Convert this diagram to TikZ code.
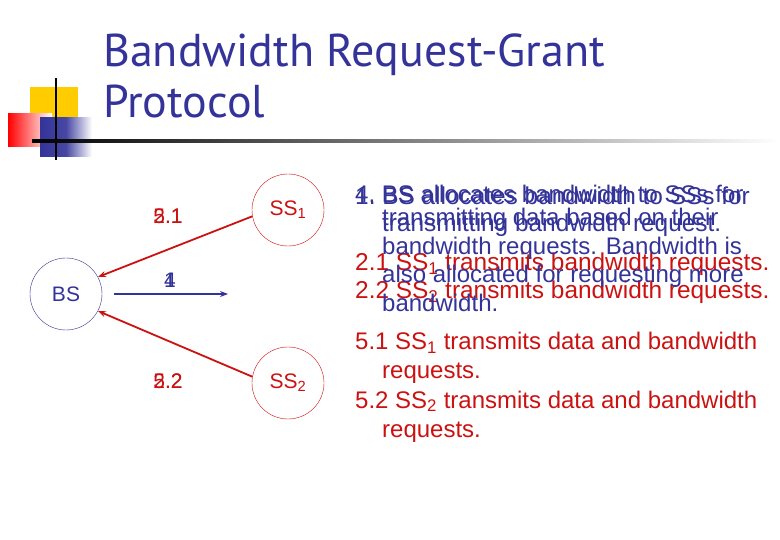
\documentclass[tikz,border=0pt]{standalone}
\usepackage{fontspec}
\setmainfont{Liberation Sans}
\newfontfamily\titlefont{PT Sans}
\usetikzlibrary{arrows.meta}
\definecolor{sblue}{RGB}{51,51,153}
\definecolor{sred}{RGB}{204,17,17}
\definecolor{syellow}{RGB}{255,204,0}
\tikzset{
  circ/.style={circle,draw,minimum size=72pt,inner sep=0pt,font=\fontsize{21}{21}\selectfont},
  lbl/.style={inner sep=0pt,font=\fontsize{21}{21}\selectfont},
  arr/.style={line width=1.8pt,-{Stealth[length=8pt,width=6pt]}},
  ta/.style={anchor=base west,inner sep=0pt,font=\fontsize{24.4}{24.4}\selectfont},
  tb/.style={anchor=base west,inner sep=0pt,font=\fontsize{24}{24}\selectfont},
}
\begin{document}
\begin{tikzpicture}[x=1pt,y=-1pt]
\useasboundingbox (0,0) rectangle (780,540);
% decoration
\fill[syellow] (30,87) rectangle (78,125);
\shade[left color=red, right color=white] (8,114) rectangle (52,147);
\shade[left color=sblue, right color=white,middle color=sblue!90] (40,118) rectangle (92,157);
\draw[line width=1.2pt] (56,78) -- (56,160);
\shade[left color=black,right color=white] (32,139.8) rectangle (780,142.2);
% title
\node[anchor=base west,inner sep=0pt,text=sblue,font=\titlefont\fontsize{46}{46}\selectfont] (t1) at (103,67) {Bandwidth Request-Grant};
\node[anchor=base west,inner sep=0pt,text=sblue,font=\titlefont\fontsize{46}{46}\selectfont] (t2) at (103,118) {Protocol};
% nodes
\node[circ,draw=sblue,text=sblue] (bs) at (66,294) {BS};
\node[circ,draw=sred,text=sred] (ss1) at (288,210) {SS\textsubscript{1}};
\node[circ,draw=sred,text=sred] (ss2) at (288,383) {SS\textsubscript{2}};
\coordinate (c4) at (228,294);
\draw[arr,sred] (ss1.190) -- (bs.28);
\draw[arr,sred] (ss2.170) -- (bs.-28);
\draw[arr,sblue,line width=1.2pt] (bs.east) ++(12,0) coordinate (b4) (b4) -- (c4);
\node[lbl,text=sred] (l21a) at (168,216) {2.1};
\node[lbl,text=sred] (l21b) at (168,216) {5.1};
\node[lbl,text=sblue] (l4a) at (170,280) {4};
\node[lbl,text=sblue] (l4b) at (170,280) {1};
\node[lbl,text=sred] (l22a) at (168,381) {2.2};
\node[lbl,text=sred] (l22b) at (168,381) {5.2};
% text block A
\node[ta,text=sblue] (a1) at (355,205) {1.\ BS allocates bandwidth to SSs for};
\node[ta,text=sblue] (a2) at (382,232) {transmitting bandwidth request.};
\node[ta,text=sred] (a3) at (355,271) {2.1 SS\textsubscript{1} transmits bandwidth requests.};
\node[ta,text=sred] (a4) at (355,299) {2.2 SS\textsubscript{2} transmits bandwidth requests.};
% text block B
\node[tb,text=sblue] (b1) at (355,203) {4.\ BS allocates bandwidth to SSs for};
\node[tb,text=sblue] (b2) at (382,226) {transmitting data based on their};
\node[tb,text=sblue] (b3) at (382,255) {bandwidth requests. Bandwidth is};
\node[tb,text=sblue] (b4t) at (382,283) {also allocated for requesting more};
\node[tb,text=sblue] (b5) at (382,312) {bandwidth.};
\node[tb,text=sred] (b6) at (355,350) {5.1 SS\textsubscript{1} transmits data and bandwidth};
\node[tb,text=sred] (b7) at (382,379) {requests.};
\node[tb,text=sred] (b8) at (355,408) {5.2 SS\textsubscript{2} transmits data and bandwidth};
\node[tb,text=sred] (b9) at (382,437) {requests.};
\end{tikzpicture}
\end{document}
